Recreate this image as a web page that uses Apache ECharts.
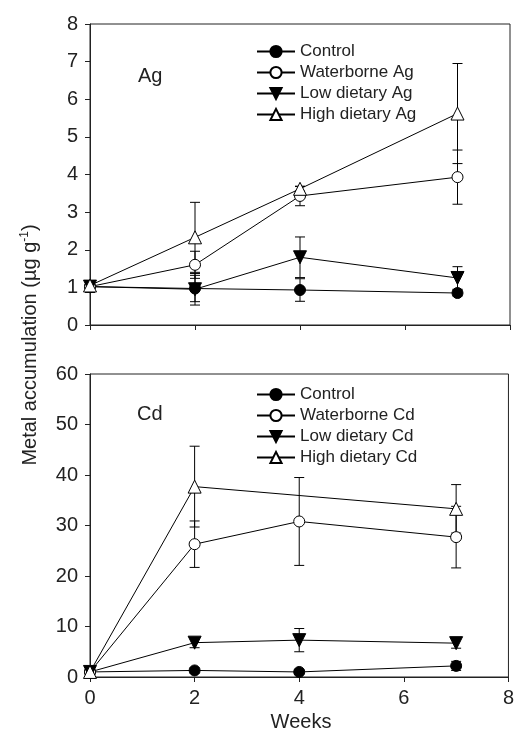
<!DOCTYPE html>
<html lang="en">
<head>
    <meta charset="utf-8">
    <title>Metal accumulation</title>
    <script src="https://cdn.jsdelivr.net/npm/echarts@6/dist/echarts.min.js"></script>
    <style>
        html, body { margin: 0; padding: 0; background: #fff; }
        #main { width: 517px; height: 740px; }
    </style>
</head>
<body>
<div id="main"></div>

<script type="text/javascript">
    // data
    var weeks = [0, 2, 4, 7];

    var agControl = [1.02, 0.97, 0.93, 0.85],
        agControlErr = [0.15, 0.35, 0.30, 0.08],
        agWater = [1.02, 1.60, 3.43, 3.93],
        agWaterErr = [0.12, 0.36, 0.26, 0.72],
        agLow = [1.02, 0.95, 1.80, 1.25],
        agLowErr = [0.15, 0.42, 0.54, 0.30],
        agHigh = [1.05, 2.33, 3.62, 5.62],
        agHighErr = [0.12, 0.93, 0.06, 1.33];

    // high dietary Cd has no point at week 4
    var cdControl = [1.0, 1.3, 1.0, 2.2],
        cdControlErr = [0.3, 0.5, 0.5, 0.9],
        cdWater = [1.0, 26.3, 30.8, 27.7],
        cdWaterErr = [0.4, 4.6, 8.7, 6.1],
        cdLow = [1.0, 6.8, 7.3, 6.7],
        cdLowErr = [0.3, 1.0, 2.3, 1.0],
        cdHigh = [1.0, 37.7, null, 33.3],
        cdHighErr = [0.4, 8.0, null, 4.8];

    var agNames = ['Control', 'Waterborne Ag', 'Low dietary Ag', 'High dietary Ag'];
    var cdNames = ['Control', 'Waterborne Cd', 'Low dietary Cd', 'High dietary Cd'];
    var agTicks = [0, 8, 1];   // min, max, interval
    var cdTicks = [0, 60, 10];
    var weekTicks = [0, 8, 2];

    var styles = [
        {symbol: 'circle', fill: '#000', rotate: 0, size: 11},
        {symbol: 'circle', fill: '#fff', rotate: 0, size: 11},
        {symbol: 'triangle', fill: '#000', rotate: 180, size: 13},
        {symbol: 'triangle', fill: '#fff', rotate: 0, size: 13}
    ];

    function pairs(vals) {
        return weeks.map(function (w, i) { return [w, vals[i]]; });
    }

    function errPairs(vals, errs) {
        var out = [];
        weeks.forEach(function (w, i) {
            if (vals[i] == null) return;
            out.push([w, vals[i] - errs[i], vals[i] + errs[i]]);
        });
        return out;
    }

    function renderErr(params, api) {
        var x = api.value(0);
        var top = api.coord([x, api.value(2)]);
        var bot = api.coord([x, api.value(1)]);
        var w = 5;
        var st = {stroke: '#000', lineWidth: 1};
        return {
            type: 'group',
            children: [
                {type: 'line', shape: {x1: top[0], y1: top[1], x2: bot[0], y2: bot[1]}, style: st},
                {type: 'line', shape: {x1: top[0] - w, y1: top[1], x2: top[0] + w, y2: top[1]}, style: st},
                {type: 'line', shape: {x1: bot[0] - w, y1: bot[1], x2: bot[0] + w, y2: bot[1]}, style: st}
            ]
        };
    }

    var series = [];
    function addPanel(idx, names, vals, errs) {
        for (var i = 0; i < 4; i++) {
            series.push({
                type: 'custom',
                xAxisIndex: idx,
                yAxisIndex: idx,
                renderItem: renderErr,
                encode: {x: 0, y: [1, 2]},
                data: errPairs(vals[i], errs[i]),
                silent: true,
                z: 1
            });
        }
        for (var j = 0; j < 4; j++) {
            series.push({
                name: names[j],
                type: 'line',
                xAxisIndex: idx,
                yAxisIndex: idx,
                data: pairs(vals[j]),
                connectNulls: true,
                symbol: styles[j].symbol,
                symbolSize: styles[j].size,
                symbolRotate: styles[j].rotate,
                showAllSymbol: true,
                lineStyle: {color: '#000', width: 1},
                itemStyle: {color: styles[j].fill, borderColor: '#000', borderWidth: 1},
                z: 3
            });
        }
    }
    addPanel(0, agNames, [agControl, agWater, agLow, agHigh], [agControlErr, agWaterErr, agLowErr, agHighErr]);
    addPanel(1, cdNames, [cdControl, cdWater, cdLow, cdHigh], [cdControlErr, cdWaterErr, cdLowErr, cdHighErr]);

    var font = 'Liberation Sans, Arial, sans-serif';
    var axisCommon = {
        axisLine: {lineStyle: {color: '#222', width: 1}},
        axisTick: {inside: false, length: 5, lineStyle: {color: '#222'}},
        splitLine: {show: false},
        axisLabel: {color: '#222', fontSize: 20, fontFamily: font}
    };

    function xAx(idx, showLabel) {
        return echarts.util.merge({
            type: 'value', gridIndex: idx,
            min: weekTicks[0], max: weekTicks[1], interval: weekTicks[2],
            axisLabel: {show: showLabel, margin: 11}
        }, axisCommon, false);
    }
    function yAx(idx, t) {
        return echarts.util.merge({
            type: 'value', gridIndex: idx,
            min: t[0], max: t[1], interval: t[2],
            axisLabel: {margin: 12}
        }, axisCommon, false);
    }

    function legendFor(names, top) {
        return {
            data: names,
            left: 251,
            top: top,
            orient: 'vertical',
            itemWidth: 38,
            itemHeight: 14,
            itemGap: 4,
            selectedMode: false,
            textStyle: {color: '#222', fontSize: 17, fontFamily: font, lineHeight: 17}
        };
    }

    var myChart = echarts.init(document.getElementById('main'));
    myChart.setOption({
        animation: false,
        backgroundColor: '#fff',
        grid: [
            {left: 90, right: 7, top: 24, height: 301, show: true, borderColor: '#222', borderWidth: 1},
            {left: 90, right: 7, top: 374, height: 303, show: true, borderColor: '#222', borderWidth: 1}
        ],
        xAxis: [xAx(0, false), xAx(1, true)],
        yAxis: [yAx(0, agTicks), yAx(1, cdTicks)],
        legend: [legendFor(agNames, 38), legendFor(cdNames, 381)],
        graphic: [
            {type: 'text', left: 138, top: 66, style: {text: 'Ag', fontSize: 20, fontFamily: font, fill: '#222'}},
            {type: 'text', left: 137, top: 404, style: {text: 'Cd', fontSize: 20, fontFamily: font, fill: '#222'}},
            {
                type: 'text', x: 301, y: 722,
                style: {text: 'Weeks', fontSize: 20, fontFamily: font, fill: '#222', align: 'center', verticalAlign: 'middle'}
            },
            {
                type: 'text', x: 30, y: 345, rotation: Math.PI / 2,
                style: {
                    text: 'Metal accumulation (µg g{sup|-1})',
                    fontSize: 20, fontFamily: font, fill: '#222',
                    align: 'center', verticalAlign: 'middle',
                    rich: {sup: {fontSize: 12, fontFamily: font, fill: '#222', verticalAlign: 'top', padding: [0, 0, 10, 0]}}
                }
            }
        ],
        series: series
    });
</script>
</body>
</html>
